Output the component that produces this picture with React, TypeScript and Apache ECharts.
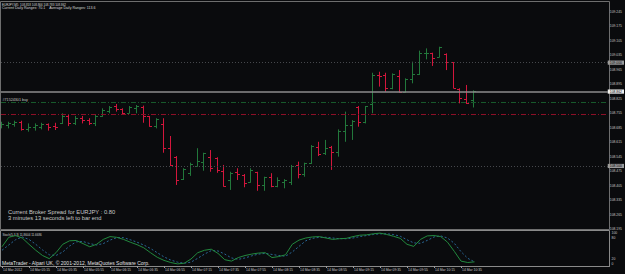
import React, { useEffect, useRef } from "react";
import * as echarts from "echarts";

// ---- data ----
const opens = [108.693,108.698,108.703,108.714,108.677,108.687,108.690,108.702,108.692,108.706,
108.742,108.706,108.734,108.722,108.706,108.742,108.767,108.790,108.774,108.758,
108.779,108.787,108.742,108.693,108.703,108.586,108.545,108.436,108.467,108.500,
108.521,108.542,108.540,108.476,108.432,108.472,108.458,108.422,108.469,108.408,
108.445,108.403,108.422,108.424,108.505,108.460,108.516,108.593,108.561,108.593,
108.566,108.671,108.698,108.787,108.714,108.800,108.940,108.940,108.876,108.935,
108.859,108.919,108.944,109.045,109.045,109.029,109.042,109.002,108.872,108.823,
108.818];
const highs = [108.714,108.714,108.719,108.719,108.706,108.706,108.709,108.706,108.709,108.755,
108.747,108.742,108.742,108.731,108.747,108.779,108.790,108.800,108.779,108.790,
108.795,108.792,108.742,108.731,108.731,108.645,108.548,108.489,108.516,108.586,
108.564,108.577,108.542,108.505,108.472,108.489,108.461,108.489,108.472,108.448,
108.465,108.445,108.436,108.505,108.521,108.516,108.601,108.617,108.626,108.597,
108.677,108.763,108.722,108.790,108.790,108.951,108.956,108.951,108.948,108.964,
108.924,109.005,109.058,109.069,109.048,109.077,109.045,109.002,108.876,108.892,
108.866];
const lows = [108.682,108.682,108.690,108.671,108.666,108.671,108.677,108.671,108.674,108.703,
108.693,108.698,108.706,108.698,108.693,108.738,108.755,108.763,108.747,108.755,
108.755,108.709,108.690,108.682,108.564,108.500,108.408,108.432,108.452,108.497,
108.477,108.472,108.467,108.400,108.384,108.432,108.397,108.419,108.380,108.380,
108.397,108.397,108.392,108.408,108.440,108.448,108.510,108.548,108.553,108.481,
108.545,108.617,108.626,108.690,108.706,108.755,108.884,108.859,108.871,108.855,
108.855,108.900,108.940,109.016,108.984,109.026,108.964,108.876,108.803,108.800,
108.783];
const closes = [108.705,108.709,108.714,108.677,108.687,108.698,108.702,108.687,108.687,108.743,
108.706,108.731,108.722,108.706,108.742,108.771,108.784,108.774,108.758,108.784,
108.790,108.742,108.693,108.726,108.586,108.503,108.432,108.484,108.510,108.526,
108.561,108.489,108.481,108.403,108.467,108.461,108.419,108.481,108.408,108.445,
108.403,108.432,108.432,108.500,108.460,108.516,108.597,108.558,108.586,108.566,
108.671,108.698,108.719,108.711,108.790,108.940,108.935,108.876,108.944,108.858,
108.919,108.944,109.048,109.048,109.021,109.074,109.002,108.879,108.827,108.806,
108.862];

const stochMain = [55,82,87,80,62,45,30,21,38,62,72,73,64,55,62,76,84,82,76,68,
61,52,38,25,16,10,6,8,20,38,45,48,36,18,14,24,30,34,37,38,
24,27,32,62,74,80,83,84,80,76,78,79,84,88,89,92,94,90,85,79,
62,56,76,86,87,84,68,42,14,10,11.8604];
const stochSignal = [45,60,75,83,76,62,46,32,30,40,57,69,70,64,60,64,74,81,81,75,
68,60,50,38,26,17,11,8,11,22,34,44,43,34,23,19,23,29,34,36,
33,30,28,40,56,72,79,82,82,80,78,78,80,84,87,90,92,92,90,85,
75,66,65,73,83,86,80,65,41,22,11.6686];

const timeTicks = ["14 Mar 2012","14 Mar 05:15","14 Mar 05:35","14 Mar 05:55","14 Mar 06:15","14 Mar 06:35",
"14 Mar 06:55","14 Mar 07:15","14 Mar 07:35","14 Mar 07:55","14 Mar 08:15","14 Mar 08:35","14 Mar 08:55",
"14 Mar 09:15","14 Mar 09:35","14 Mar 09:55","14 Mar 10:15","14 Mar 10:35"];
const priceTicks = ["109.245","109.175","109.105","109.035","108.965","108.895","108.825","108.755",
"108.685","108.615","108.545","108.475","108.405","108.335","108.265","108.195"];
const stochTicks = [0, 20, 80, 100];

const bidPrice = 108.862;
const buyPrice = 108.805;
const stopPrice = 108.754;
const levelHigh = 109.0;
const levelLow = 108.5;

const SHIFT_SLOTS = 20;
const PRICE_MIN = 108.195;
const PRICE_MAX = 109.2934;
const PRICE_STEP = 0.07;

const UP = "#22783b";
const DOWN = "#d3163c";
const FONT = "Liberation Sans, Arial, sans-serif";

export default function App() {
  const ref = useRef<HTMLDivElement>(null);
  useEffect(() => {
    if (!ref.current) return;
    const chart = echarts.init(ref.current, null, { renderer: "svg" });

    const nBars = opens.length;
    const categories: string[] = [];
    for (let i = 0; i < nBars; i++) {
      const m = 4 * 60 + 55 + i * 5;
      const hh = String(Math.floor(m / 60)).padStart(2, "0");
      const mm = String(m % 60).padStart(2, "0");
      categories.push(hh + ":" + mm);
    }
    for (let s = 0; s < SHIFT_SLOTS; s++) categories.push("s" + s);
    const labelMap: Record<string, string> = {};
    timeTicks.forEach((t, k) => { labelMap[categories[k * 4]] = t; });
    const lastTickIdx = (timeTicks.length - 1) * 4;
    const showTick = (idx: number) => idx % 4 === 0 && idx <= lastTickIdx;

    const barData = opens.map((o, i) => [i, o, highs[i], lows[i], closes[i]]);

    const labelAxisMax = (PRICE_MAX - PRICE_MIN) / PRICE_STEP;

    const mkLine = (val: number, color: string, type: any, width: number, label?: { text: string; bg: string }) => ({
      yAxis: val,
      lineStyle: { color, type, width },
      label: label
        ? {
            show: true,
            position: "end",
            distance: 0,
            formatter: label.text,
            backgroundColor: label.bg,
            color: "#000",
            fontSize: 3.4,
            fontFamily: FONT,
            padding: [0.8, 2, 0.4, 2],
          }
        : { show: false },
    });

    const option: any = {
      animation: false,
      backgroundColor: "#0a0b0d",
      grid: [
        { left: 1, top: 2, width: 608.5, height: 227 },
        { left: 1, top: 231, width: 608.5, height: 35 },
      ],
      xAxis: [
        { type: "category", gridIndex: 0, data: categories, boundaryGap: false, show: false },
        {
          type: "category",
          gridIndex: 1,
          data: categories,
          boundaryGap: false,
          axisLine: { show: true, lineStyle: { color: "#8a8a8a", width: 1 } },
          axisTick: { show: true, interval: (idx: number) => showTick(idx), length: 2, lineStyle: { color: "#9a9a9a" } },
          axisLabel: {
            show: true,
            interval: (idx: number) => showTick(idx),
            formatter: (v: string) => labelMap[v] || "",
            color: "#c4c4c4",
            fontSize: 3.4,
            fontFamily: FONT,
            align: "left",
            margin: 2,
            padding: [0, 0, 0, 1],
          },
          splitLine: { show: false },
        },
      ],
      yAxis: [
        { type: "value", gridIndex: 0, min: PRICE_MIN, max: PRICE_MAX, show: false },
        {
          type: "value",
          gridIndex: 0,
          position: "right",
          min: 0,
          max: labelAxisMax,
          interval: 1,
          axisLine: { show: false },
          axisTick: { show: false },
          splitLine: { show: false },
          axisLabel: {
            margin: 2,
            color: "#c4c4c4",
            fontSize: 3.4,
            fontFamily: FONT,
            showMaxLabel: false,
            formatter: (v: number) => {
              const k = Math.round(v);
              if (Math.abs(v - k) > 1e-6) return "";
              return priceTicks[priceTicks.length - 1 - k] || "";
            },
          },
        },
        {
          type: "value",
          gridIndex: 1,
          position: "right",
          min: 0,
          max: 100,
          interval: 20,
          axisLine: { show: false },
          axisTick: { show: false },
          splitLine: { show: false },
          axisLabel: {
            margin: 2,
            color: "#c4c4c4",
            fontSize: 3.4,
            fontFamily: FONT,
            formatter: (v: number) => {
              if (!stochTicks.includes(v)) return "";
              if (v === 100) return "{top|100}";
              if (v === 0) return "{bot|0}";
              return String(v);
            },
            rich: {
              top: { fontSize: 3.4, fontFamily: FONT, color: "#c4c4c4", padding: [4.5, 0, 0, 0] },
              bot: { fontSize: 3.4, fontFamily: FONT, color: "#c4c4c4", padding: [0, 0, 5, 0] },
            },
          },
        },
      ],
      series: [
        {
          type: "line",
          xAxisIndex: 0,
          yAxisIndex: 0,
          data: [],
          silent: true,
          markLine: {
            silent: true,
            symbol: ["none", "none"],
            animation: false,
            data: [
              mkLine(levelHigh, "#46484c", [1, 2], 1, { text: "109.000", bg: "#9c9c9c" }),
              mkLine(levelLow, "#46484c", [1, 2], 1, { text: "108.500", bg: "#9c9c9c" }),
              mkLine(buyPrice, "#17592b", [5, 2, 1, 2], 1),
              mkLine(stopPrice, "#8c0f27", [5, 2, 1, 2], 1),
              mkLine(bidPrice, "#8c8c8c", "solid", 1.6, { text: "108.862", bg: "#f0f0f0" }),
            ],
          },
        },
        {
          type: "custom",
          xAxisIndex: 0,
          yAxisIndex: 0,
          data: barData,
          encode: { x: 0, y: [1, 2, 3, 4] },
          clip: true,
          renderItem: (params: any, api: any) => {
            const i = api.value(0);
            const o = api.value(1), h = api.value(2), l = api.value(3), c = api.value(4);
            const pt = api.coord([i, h]);
            const pb = api.coord([i, l]);
            const po = api.coord([i, o]);
            const pc = api.coord([i, c]);
            const x = Math.round(pt[0]) + 0.5;
            const color = c >= o ? UP : DOWN;
            const st = { stroke: color, lineWidth: 1 };
            const yo = Math.round(po[1]) + 0.5;
            const yc = Math.round(pc[1]) + 0.5;
            return {
              type: "group",
              children: [
                { type: "line", shape: { x1: x, y1: pt[1], x2: x, y2: pb[1] }, style: st },
                { type: "line", shape: { x1: x - 2.5, y1: yo, x2: x, y2: yo }, style: st },
                { type: "line", shape: { x1: x, y1: yc, x2: x + 2.5, y2: yc }, style: st },
              ],
            };
          },
        },
        {
          type: "line",
          xAxisIndex: 1,
          yAxisIndex: 2,
          data: stochSignal,
          showSymbol: false,
          lineStyle: { color: "#2a6796", width: 1, type: [2, 2] },
        },
        {
          type: "line",
          xAxisIndex: 1,
          yAxisIndex: 2,
          data: stochMain,
          showSymbol: false,
          lineStyle: { color: "#23893f", width: 1 },
        },
      ],
      graphic: [
        { type: "rect", silent: true, shape: { x: 0.5, y: 1.5, width: 609, height: 228 }, style: { fill: "none", stroke: "#6e6e6e", lineWidth: 1 } },
        { type: "rect", silent: true, shape: { x: 0.5, y: 230.5, width: 609, height: 36 }, style: { fill: "none", stroke: "#8a8a8a", lineWidth: 1 } },
        { type: "text", silent: true, x: 2, y: 4.3, style: { text: "EURJPY,M5  108.818 108.866 108.783 108.862", fill: "#d8d8d8", fontSize: 3, fontFamily: FONT, verticalAlign: "middle" } },
        { type: "text", silent: true, x: 2, y: 8, style: { text: "Current Daily Ranges: 70.1    Average Daily Ranges: 113.6", fill: "#d8d8d8", fontSize: 3.6, fontFamily: FONT, verticalAlign: "middle" } },
        { type: "text", silent: true, x: 2.5, y: 100, style: { text: "#71524301 buy", fill: "#c8c8c8", fontSize: 3.7, fontFamily: FONT, verticalAlign: "middle" } },
        { type: "text", silent: true, x: 8, y: 211.7, style: { text: "Current Broker Spread for EURJPY : 0.80", fill: "#c8c8c8", fontSize: 5.8, fontFamily: FONT, verticalAlign: "middle" } },
        { type: "text", silent: true, x: 8, y: 217.7, style: { text: "3 minutes 13 seconds left to bar end", fill: "#c8c8c8", fontSize: 5.8, fontFamily: FONT, verticalAlign: "middle" } },
        { type: "text", silent: true, x: 2.5, y: 234.7, style: { text: "Stoch(5,3,3) 11.8604 11.6686", fill: "#d0d0d0", fontSize: 3, fontFamily: FONT, verticalAlign: "middle" } },
        { type: "text", silent: true, x: 2, y: 263.3, style: { text: "MetaTrader - Alpari UK, © 2001-2012, MetaQuotes Software Corp.", fill: "#e0e0e0", fontSize: 5, fontFamily: FONT, verticalAlign: "middle" } },
      ],
    };

    chart.setOption(option);
    return () => chart.dispose();
  }, []);

  return (
    <div
      ref={ref}
      style={{ position: "fixed", left: 0, top: 0, width: 625, height: 274 }}
    />
  );
}
